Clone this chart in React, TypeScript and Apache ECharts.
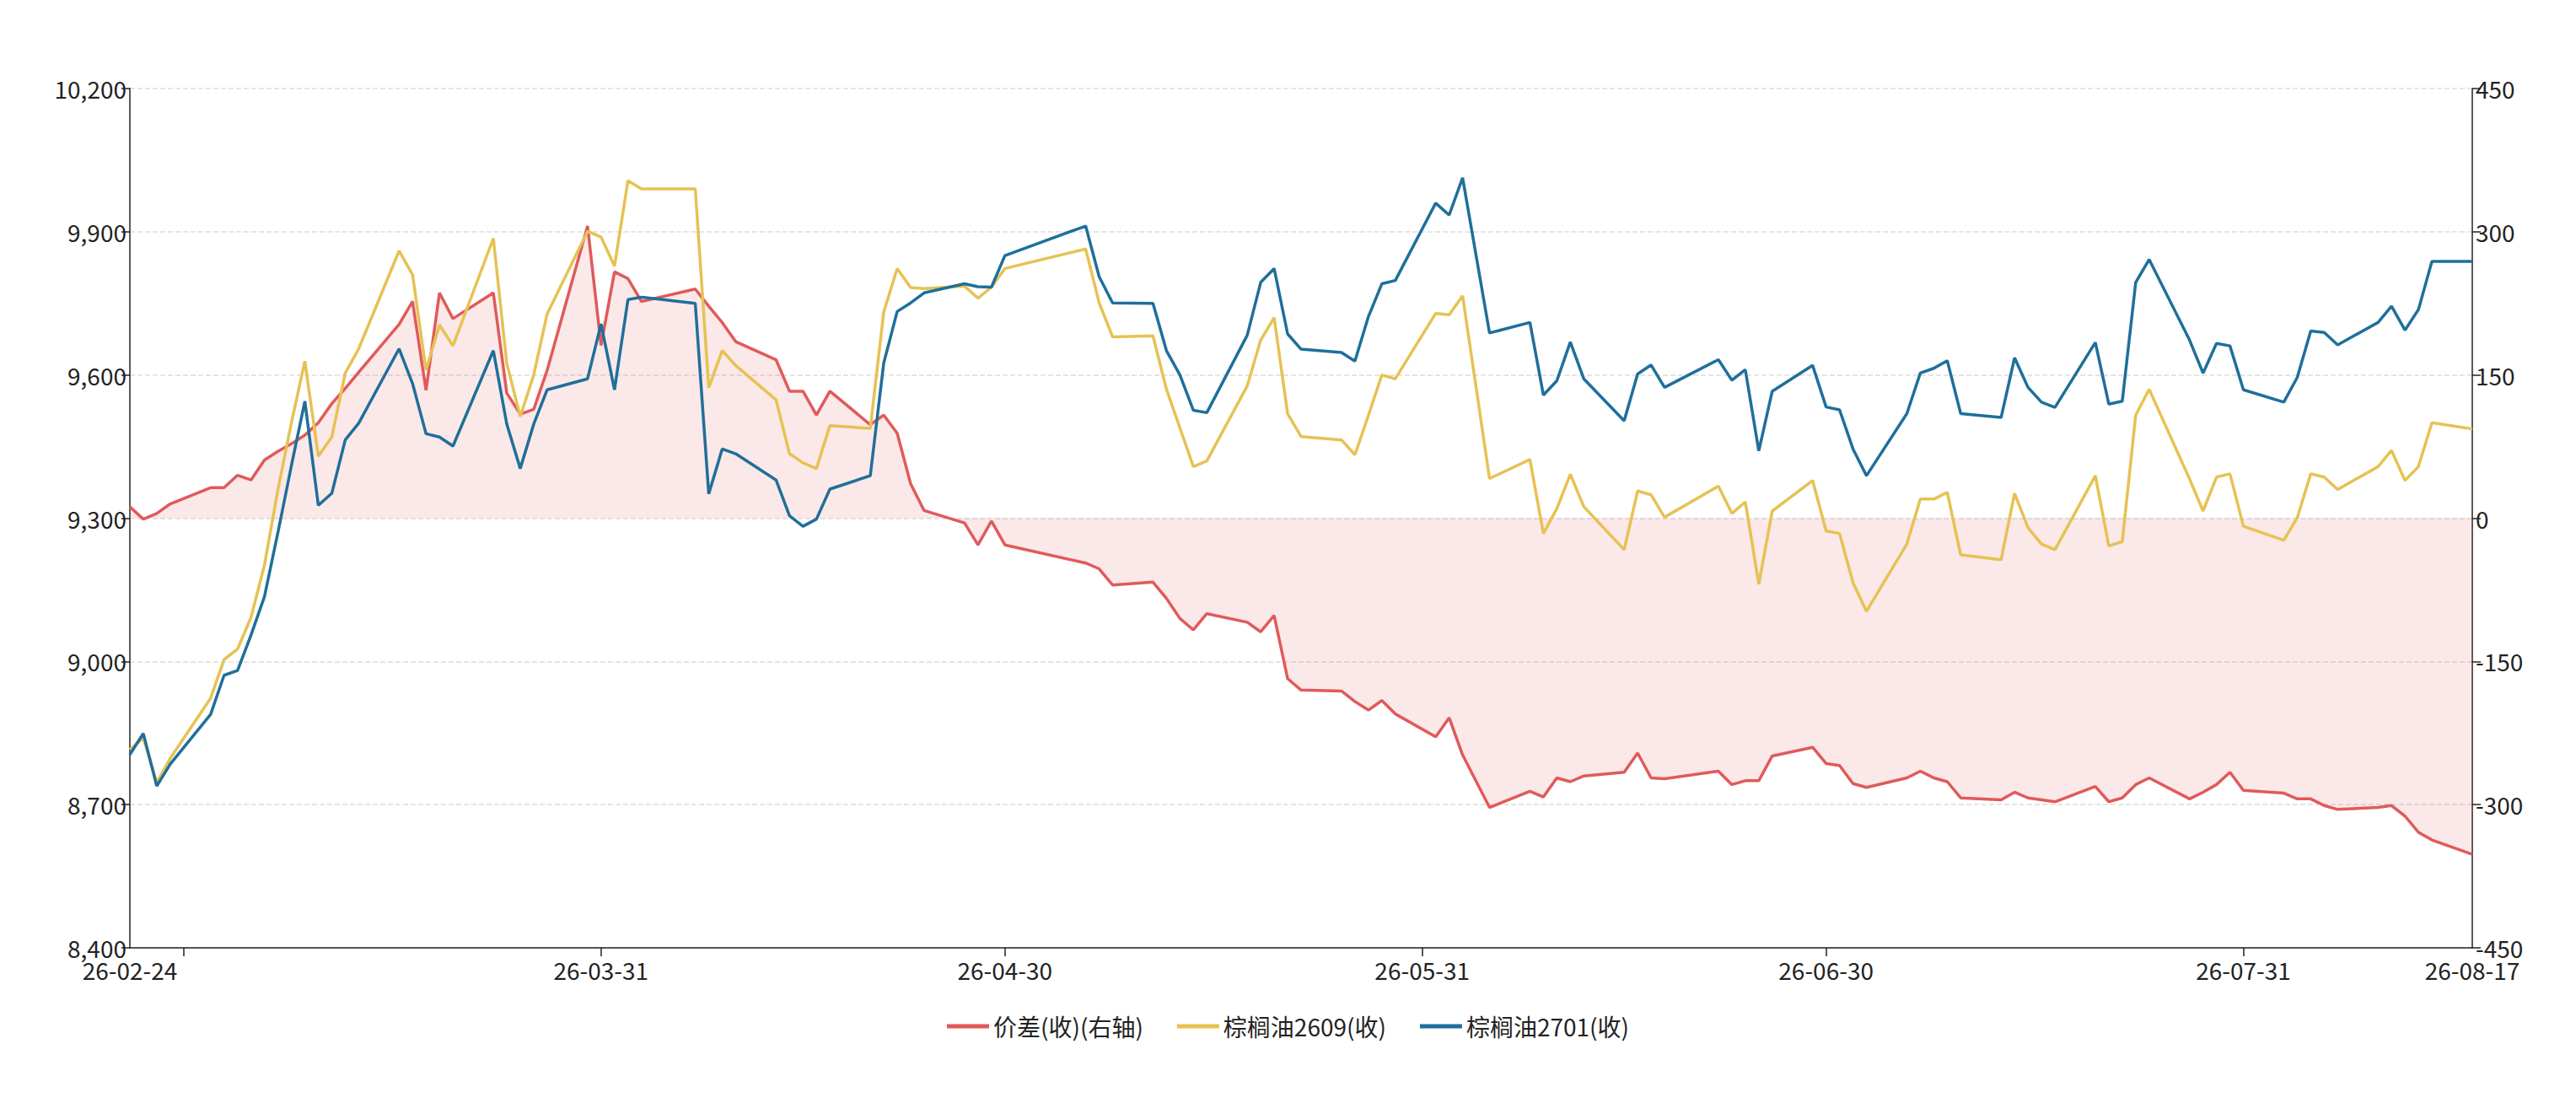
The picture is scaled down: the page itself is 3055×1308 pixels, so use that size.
import { useEffect, useRef } from 'react'
import * as echarts from 'echarts'

// trading days, counted in days from 2026-02-24
const dayOffsets = [
  0, 1, 2, 3, 6, 7, 8, 9, 10, 11, 12, 13, 14, 15, 16, 17, 20, 21, 22, 23, 24, 27, 28, 29, 30, 31,
  34, 35, 36, 37, 38, 42, 43, 44, 45, 48, 49, 50, 51, 52, 55, 56, 57, 58, 59, 62, 63, 64, 65,
  71, 72, 73, 76, 77, 78, 79, 80, 83, 84, 85, 86, 87, 90, 91, 92, 93, 94, 97, 98, 99, 101,
  104, 105, 106, 107, 108, 111, 112, 113, 114, 118, 119, 120, 121, 122, 125, 126, 127, 128, 129,
  132, 133, 134, 135, 136, 139, 140, 141, 142, 143, 146, 147, 148, 149, 150, 153, 154, 155, 156,
  157, 160, 161, 162, 163, 164, 167, 168, 169, 170, 171, 174,
]

const spread = [
  12, -1, 5, 15, 32, 32, 45, 40, 61, 70, 78, 87, 100, 120, 136, 153, 203, 227, 134, 236, 209, 236, 131, 109, 114, 155,
  306, 181, 258, 251, 227, 240, 222, 205, 185, 166, 133, 133, 108, 133, 98, 108, 89, 36, 8, -5, -28, -3, -28,
  -47, -53, -70, -67, -84, -105, -117, -100, -109, -119, -102, -168, -180, -181, -192, -201, -191, -205, -229, -209, -248, -303,
  -286, -292, -272, -276, -270, -266, -246, -272, -273, -265, -279, -275, -275, -249, -240, -257, -259, -278, -282,
  -272, -265, -272, -276, -293, -295, -287, -293, -295, -297, -281, -297, -293, -279, -272, -294, -287, -279, -266,
  -285, -288, -294, -294, -301, -305, -303, -301, -312, -329, -337, -352,
]

const palm2609 = [
  8815, 8840, 8746, 8797, 8923, 9004, 9026, 9092, 9202, 9360, 9500, 9629, 9430, 9470, 9604, 9655, 9860, 9810, 9610, 9705, 9661, 9886, 9624, 9513, 9600, 9728,
  9901, 9889, 9828, 10007, 9990, 9990, 9573, 9651, 9620, 9548, 9435, 9416, 9404, 9494, 9488, 9732, 9823, 9783, 9781, 9786, 9761, 9784, 9823,
  9864, 9751, 9680, 9682, 9570, 9489, 9408, 9420, 9577, 9673, 9720, 9519, 9471, 9464, 9433, 9515, 9600, 9592, 9729, 9726, 9766, 9383,
  9423, 9268, 9320, 9392, 9324, 9234, 9357, 9349, 9302, 9367, 9310, 9334, 9162, 9315, 9379, 9273, 9268, 9165, 9105,
  9246, 9340, 9340, 9354, 9223, 9213, 9352, 9280, 9246, 9234, 9389, 9242, 9251, 9516, 9570, 9382, 9315, 9386, 9393,
  9283, 9254, 9301, 9393, 9386, 9360, 9408, 9442, 9379, 9408, 9500, 9487,
]

const palm2701 = [
  8805, 8849, 8739, 8785, 8889, 8971, 8981, 9055, 9136, 9270, 9410, 9545, 9327, 9352, 9464, 9499, 9655, 9582, 9477, 9470, 9451, 9651, 9497, 9404, 9497, 9569,
  9592, 9707, 9569, 9758, 9763, 9750, 9351, 9445, 9435, 9380, 9305, 9283, 9298, 9361, 9389, 9625, 9733, 9751, 9772, 9791, 9785, 9784, 9850,
  9912, 9806, 9751, 9750, 9651, 9600, 9526, 9521, 9683, 9794, 9823, 9686, 9654, 9647, 9629, 9722, 9791, 9798, 9960, 9935, 10013, 9688,
  9710, 9558, 9588, 9669, 9592, 9504, 9602, 9621, 9574, 9632, 9589, 9611, 9441, 9566, 9620, 9533, 9527, 9445, 9389,
  9519, 9604, 9614, 9630, 9519, 9511, 9636, 9574, 9543, 9532, 9668, 9539, 9545, 9794, 9842, 9673, 9604, 9666, 9661,
  9569, 9543, 9595, 9692, 9689, 9663, 9710, 9744, 9694, 9737, 9838, 9838,
]

const seriesNames = ['价差(收)(右轴)', '棕榈油2609(收)', '棕榈油2701(收)']
const tickDates = ['2026-02-28', '2026-03-31', '2026-04-30', '2026-05-31', '2026-06-30', '2026-07-31']
const labelDates = ['2026-02-24', '2026-03-31', '2026-04-30', '2026-05-31', '2026-06-30', '2026-07-31', '2026-08-17']

const DAY = 86400000
const START = Date.UTC(2026, 1, 24)
const ts = (s: string) => Date.parse(s + 'T00:00:00Z')

const fmtDate = (v: number) => {
  const d = new Date(v)
  const p = (n: number) => String(n).padStart(2, '0')
  return `${String(d.getUTCFullYear()).slice(2)}-${p(d.getUTCMonth() + 1)}-${p(d.getUTCDate())}`
}

const App = () => {
  const ref = useRef<HTMLDivElement>(null)

  useEffect(() => {
    if (!ref.current) return
    const chart = echarts.init(ref.current, undefined, { renderer: 'svg' })
    const xs = dayOffsets.map((d) => START + d * DAY)
    const pair = (vals: number[]) => xs.map((x, i) => [x, vals[i]])
    const font = '"Noto Sans CJK SC", "Noto Sans", sans-serif'
    const axisText = { color: '#222', fontSize: 28, fontFamily: font }

    const option = {
      animation: false,
      color: ['#e05a5a', '#e6c253', '#1f6f9a'],
      grid: { left: 154, right: 123, top: 105, bottom: 184 },
      legend: {
        bottom: 72,
        left: 'center',
        icon: 'rect',
        itemWidth: 50,
        itemHeight: 5,
        itemGap: 40,
        textStyle: { color: '#222', fontSize: 28, fontFamily: font },
        data: seriesNames,
      },
      xAxis: {
        type: 'value',
        min: ts('2026-02-24'),
        max: ts('2026-08-17'),
        axisLine: { onZero: false, lineStyle: { color: '#222', width: 1.5 } },
        axisTick: { show: true, length: 10, lineStyle: { color: '#222', width: 1.5 }, customValues: tickDates.map(ts) },
        axisLabel: { ...axisText, margin: 12, formatter: fmtDate, customValues: labelDates.map(ts), showMinLabel: true, showMaxLabel: true },
        splitLine: { show: false },
      },
      yAxis: [
        {
          type: 'value',
          min: 8400,
          max: 10200,
          interval: 300,
          axisLine: { show: true, lineStyle: { color: '#222', width: 1.5 } },
          axisTick: { show: true, length: 10, lineStyle: { color: '#222', width: 1.5 } },
          axisLabel: { ...axisText, margin: 4, formatter: (v: number) => v.toLocaleString('en-US') },
          splitLine: { show: true, lineStyle: { color: '#dddddd', type: 'dashed', width: 1.5 } },
        },
        {
          type: 'value',
          min: -450,
          max: 450,
          interval: 150,
          position: 'right',
          axisLine: { show: true, lineStyle: { color: '#222', width: 1.5 } },
          axisTick: { show: true, length: 10, lineStyle: { color: '#222', width: 1.5 } },
          axisLabel: { ...axisText, margin: 4 },
          splitLine: { show: false },
        },
      ],
      series: [
        {
          name: seriesNames[0],
          type: 'line',
          yAxisIndex: 1,
          data: pair(spread),
          symbol: 'none',
          lineStyle: { width: 3.5 },
          areaStyle: { color: 'rgba(224, 90, 90, 0.2)', origin: 0 },
        },
        {
          name: seriesNames[1],
          type: 'line',
          data: pair(palm2609),
          symbol: 'none',
          lineStyle: { width: 3.5 },
        },
        {
          name: seriesNames[2],
          type: 'line',
          data: pair(palm2701),
          symbol: 'none',
          lineStyle: { width: 3.5 },
        },
      ],
    }

    chart.setOption(option as Record<string, unknown>)
    return () => chart.dispose()
  }, [])

  return (
    <div
      ref={ref}
      style={{ position: 'absolute', left: 0, top: 0, width: '3055px', height: '1308px', background: '#fff' }}
    />
  )
}

export default App
